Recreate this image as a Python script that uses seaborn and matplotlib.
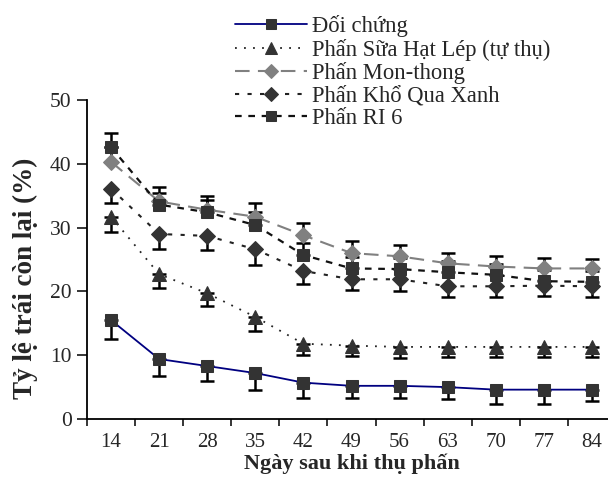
import numpy as np
import matplotlib
matplotlib.use("Agg")
import matplotlib.pyplot as plt
import seaborn as sns

days = ["14", "21", "28", "35", "42", "49", "56", "63", "70", "77", "84"]
series_names = ["Đối chứng", "Phấn Sữa Hạt Lép (tự thụ)", "Phấn Mon-thong",
                "Phấn Khổ Qua Xanh", "Phấn RI 6"]

doi_chung = [15.5, 9.4, 8.3, 7.2, 5.7, 5.2, 5.2, 5.0, 4.6, 4.6, 4.6]
sua_hat_lep = [31.7, 22.7, 19.7, 16.0, 11.8, 11.5, 11.3, 11.3, 11.3, 11.3, 11.3]
mon_thong = [40.3, 34.1, 32.8, 31.7, 28.8, 26.0, 25.5, 24.4, 23.9, 23.6, 23.6]
kho_qua = [36.1, 29.0, 28.7, 26.6, 23.2, 21.9, 21.9, 20.8, 20.8, 20.9, 20.8]
ri6 = [42.6, 33.6, 32.4, 30.4, 25.7, 23.6, 23.5, 23.0, 22.6, 21.6, 21.5]

err_doi_chung = [3.0, 2.7, 2.4, 2.7, 2.4, 1.9, 1.9, 1.9, 2.2, 2.2, 1.8]
err_sua = [2.4, 2.2, 2.0, 2.2, 1.7, 1.7, 1.7, 1.6, 1.6, 1.6, 1.6]
err_mon = [2.3, 2.2, 2.2, 2.2, 1.9, 1.9, 1.7, 1.6, 1.6, 1.6, 1.5]
err_kq = [2.2, 2.4, 2.2, 2.5, 2.0, 1.7, 1.9, 1.6, 1.6, 1.6, 1.6]
err_ri6 = [2.3, 1.9, 1.9, 2.0, 1.9, 1.8, 1.8, 1.7, 1.7, 1.7, 1.7]

sns.set_style("white")
plt.rcParams['font.family'] = ['Liberation Serif', 'DejaVu Serif']
plt.rcParams['font.size'] = 13.5

W, H = 608, 482
fig = plt.figure(figsize=(W / 100, H / 100), dpi=100)
ax = fig.add_axes([87 / W, (H - 419) / H, 529 / W, 319 / H])

x = np.arange(len(days))
dark = "#333333"

specs = [
    (doi_chung, err_doi_chung, "down", dict(color="#000080", linestyle="-", lw=1.3,
                                          marker="s", ms=9, mfc=dark, mec=dark)),
    (sua_hat_lep, err_sua, "down", dict(color="#222222", linestyle=(0, (1, 4)), lw=1.3,
                                        marker="^", ms=10, mfc=dark, mec=dark)),
    (mon_thong, err_mon, "up", dict(color="#808080", linestyle=(0, (7, 4)), lw=1.5,
                                    marker="D", ms=8, mfc="#808080", mec="#808080")),
    (kho_qua, err_kq, "down", dict(color="#222222", linestyle=(0, (2, 4)), lw=1.5,
                                   marker="D", ms=8, mfc=dark, mec=dark)),
    (ri6, err_ri6, "up", dict(color="#111111", linestyle=(0, (3, 3)), lw=1.6,
                              marker="s", ms=9, mfc=dark, mec=dark)),
]

handles = []
for (vals, errs, side, st), name in zip(specs, series_names):
    vals = np.asarray(vals, dtype=float)
    errs = np.asarray(errs, dtype=float)
    zeros = np.zeros_like(errs)
    yerr = [errs, zeros] if side == "down" else [zeros, errs]
    ax.errorbar(x, vals, yerr=yerr, fmt="none", ecolor="black", elinewidth=1.8,
                capsize=5, capthick=1.8, zorder=2)
    sns.lineplot(x=x, y=vals, ax=ax, zorder=3, **st)
    handles.append(ax.lines[-1])

ax.set_xlim(-0.5, 10.5)
ax.set_ylim(0, 50)
ax.set_yticks([0, 10, 20, 30, 40, 50])
ax.set_xticks(np.arange(-0.5, 10.5, 1.0))
ax.set_xticklabels([])
ax.set_xticks(x, minor=True)
ax.set_xticklabels(days, minor=True)
ax.tick_params(axis="x", which="major", direction="out", length=5, width=1.3, bottom=True)
ax.tick_params(axis="x", which="minor", length=0, pad=10, labelsize=15)
ax.tick_params(axis="y", direction="out", length=7, width=1.3, left=True, pad=4, labelsize=15.5)

for s in ["top", "right"]:
    ax.spines[s].set_visible(False)
for s in ["left", "bottom"]:
    ax.spines[s].set_linewidth(1.3)
    ax.spines[s].set_color("black")

ax.set_xlabel("")
ax.set_ylabel("")
fig.text(352 / W, 1 - 464 / H, "Ngày sau khi thụ phấn", ha="center", va="center",
         fontsize=16, fontweight="bold")
fig.text(25 / W, 1 - 278 / H, "Tỷ lệ trái còn lại (%)", ha="center", va="center",
         rotation=90, fontsize=19.5, fontweight="bold")

leg = fig.legend(handles, series_names, loc="upper left",
                 bbox_to_anchor=(235 / W, 1 - 15 / H), frameon=False,
                 borderpad=0, borderaxespad=0, handlelength=3.2, handletextpad=0.2,
                 labelspacing=0.07, fontsize=16.3, markerscale=0.85)

fig.savefig("out.png", dpi=100)
